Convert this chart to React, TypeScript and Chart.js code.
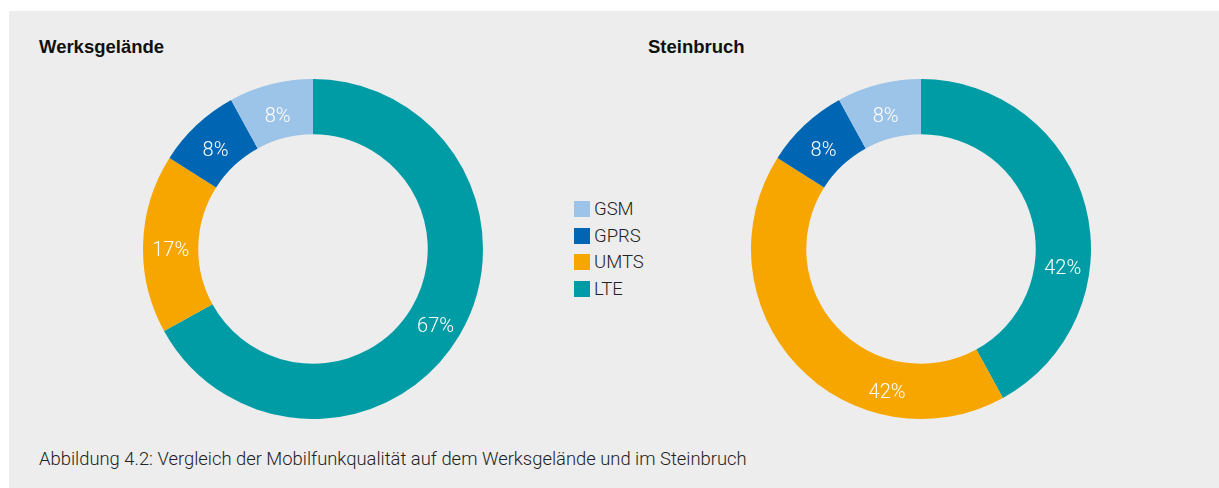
import React, { useEffect, useRef } from "react";
import { Chart, registerables } from "chart.js";

Chart.register(...registerables);

// ---- data ----
const categories = ["LTE", "UMTS", "GPRS", "GSM"];
const werksgelaendeValues = [67, 17, 8, 8];
const steinbruchValues = [42, 42, 8, 8];
const colors = ["#009ca6", "#f7a600", "#0066b3", "#9cc3e8"];
const chartTitles = ["Werksgelände", "Steinbruch"];
const caption =
  "Abbildung 4.2: Vergleich der Mobilfunkqualität auf dem Werksgelände und im Steinbruch";

// label angle adjustments (degrees) per slice, styling only
const leftLabelShift = [0, 0, 0, 0];
const rightLabelShift = [20, -33, 0, 0];

const LIGHT_FONT = "'Roboto', 'Liberation Sans', sans-serif";
const BOLD_FONT = "'Liberation Sans', Arial, sans-serif";

const pctLabelPlugin = {
  id: "pctLabels",
  afterDatasetsDraw(chart: any, _args: any, opts: any) {
    const ctx = chart.ctx;
    const meta = chart.getDatasetMeta(0);
    const data = chart.data.datasets[0].data as number[];
    const shifts: number[] = (opts && opts.shifts) || [];
    ctx.save();
    ctx.font = `300 20px ${LIGHT_FONT}`;
    ctx.fillStyle = "#ffffff";
    ctx.textAlign = "center";
    ctx.textBaseline = "alphabetic";
    meta.data.forEach((arc: any, i: number) => {
      const p = arc.getProps(["x", "y", "startAngle", "endAngle", "innerRadius", "outerRadius"], true);
      const mid = (p.startAngle + p.endAngle) / 2 + ((shifts[i] || 0) * Math.PI) / 180;
      const r = (p.innerRadius + p.outerRadius) / 2;
      ctx.fillText(`${data[i]}%`, p.x + Math.cos(mid) * r, p.y + Math.sin(mid) * r + 11);
    });
    ctx.restore();
  },
};

function Donut({ values, shifts, left }: { values: number[]; shifts: number[]; left: number }) {
  const ref = useRef<HTMLCanvasElement | null>(null);
  useEffect(() => {
    if (!ref.current) return;
    const chart = new Chart(ref.current, {
      type: "doughnut",
      data: {
        labels: categories,
        datasets: [{ data: values, backgroundColor: colors, borderWidth: 0 }],
      },
      options: {
        responsive: false,
        animation: false,
        cutout: "67.5%",
        rotation: 0,
        layout: { padding: 0 },
        plugins: {
          legend: { display: false },
          tooltip: { enabled: false },
          pctLabels: { shifts },
        } as any,
      },
      plugins: [pctLabelPlugin],
    });
    return () => chart.destroy();
  }, []);
  return (
    <canvas
      ref={ref}
      width={340}
      height={340}
      style={{ position: "absolute", left, top: 79, width: 340, height: 340 }}
    />
  );
}

export default function App() {
  const legendItems = categories.map((c, i) => ({ c, color: colors[i] })).reverse();
  return (
    <div style={{ position: "absolute", left: 0, top: 0, width: 1219, height: 488, background: "#ffffff", overflow: "hidden" }}>
      <div style={{ position: "absolute", left: 9, top: 11, width: 1210, height: 477, background: "#ededed" }} />
      <div style={{ position: "absolute", left: 39, top: 36, font: `bold 18.5px ${BOLD_FONT}`, color: "#111", lineHeight: "22px" }}>
        {chartTitles[0]}
      </div>
      <div style={{ position: "absolute", left: 648, top: 36, font: `bold 18.5px ${BOLD_FONT}`, color: "#111", lineHeight: "22px" }}>
        {chartTitles[1]}
      </div>
      <Donut values={werksgelaendeValues} shifts={leftLabelShift} left={143} />
      <Donut values={steinbruchValues} shifts={rightLabelShift} left={751} />
      {legendItems.map((it, i) => (
        <div key={it.c} style={{ position: "absolute", left: 574, top: 201 + i * 26.7, height: 16, display: "flex", alignItems: "center" }}>
          <div style={{ width: 16, height: 16, background: it.color }} />
          <div style={{ marginLeft: 4, font: `300 18.5px ${LIGHT_FONT}`, color: "#222", lineHeight: "16px" }}>{it.c}</div>
        </div>
      ))}
      <div style={{ position: "absolute", left: 39, top: 449, font: `300 18.4px ${LIGHT_FONT}`, color: "#222", lineHeight: "20px", whiteSpace: "nowrap" }}>
        {caption}
      </div>
    </div>
  );
}
